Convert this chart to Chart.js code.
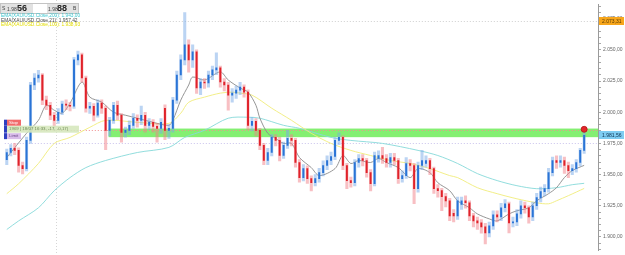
<!DOCTYPE html>
<html>
<head>
<meta charset="utf-8">
<script src="https://cdn.jsdelivr.net/npm/chart.js@4.4.1/dist/chart.umd.min.js"></script>
<style>
  html, body { margin: 0; padding: 0; background: #fff; }
  #wrap { width: 625px; height: 255px; }
</style>
</head>
<body>
<div id="wrap"><canvas id="xauChart" width="625" height="255"></canvas></div>
<script>
// XAU/USD candles
const opens = [
  1962.0,1967.7,1971.0,1969.4,1957.3,1954.8,1977.4,2021.8,2027.4,2029.8,
  2009.7,2005.6,1997.6,1993.5,2000.0,2006.5,2005.6,2004.8,2041.9,2046.0,
  2027.4,2003.2,2004.8,1997.6,2007.3,2003.2,1985.5,1993.5,2005.6,1997.6,
  1983.9,1985.5,1989.5,1995.2,1993.5,1997.6,1989.5,1991.9,1988.7,1987.1,
  2003.2,1985.5,1987.1,2009.7,2029.8,2041.9,2054.0,2041.9,2048.4,2019.4,
  2024.2,2023.4,2029.8,2033.9,2035.5,2024.2,2021.8,2013.7,2015.3,2017.7,
  2020.2,2016.1,1989.5,1992.7,1985.5,1973.4,1961.3,1967.7,1979.8,1977.4,
  1965.3,1973.4,1979.0,1977.4,1959.7,1947.6,1954.8,1946.8,1943.5,1946.8,
  1951.6,1957.3,1961.3,1964.5,1977.4,1979.8,1957.3,1945.2,1943.5,1959.7,
  1962.9,1961.3,1951.6,1942.7,1963.0,1965.3,1962.9,1959.7,1963.7,1961.3,
  1946.8,1949.2,1958.9,1957.3,1938.7,1957.3,1959.0,1961.3,1954.8,1938.7,
  1937.1,1932.3,1929.0,1919.0,1916.9,1926.0,1929.0,1927.4,1916.9,1912.9,
  1911.3,1908.1,1903.2,1908.9,1917.7,1916.1,1923.4,1926.6,1911.3,1912.1,
  1918.5,1925.0,1923.4,1916.1,1925.0,1931.5,1936.3,1938.7,1951.6,1961.3,
  1959.7,1961.3,1957.3,1953.2,1954.8,1959.7,1969.4
];
const highs = [
  1970.5,1974.0,1975.0,1971.5,1960.0,1980.0,2024.0,2031.0,2033.5,2031.0,
  2013.0,2008.0,2000.0,2003.0,2009.0,2010.0,2008.0,2044.0,2049.0,2047.5,
  2029.0,2008.0,2007.0,2010.0,2010.0,2005.0,1996.0,2008.0,2009.0,1999.0,
  1988.0,1993.0,1999.0,1998.0,2005.0,2000.0,1995.0,1994.0,1991.0,1995.0,
  2006.0,1990.0,2012.0,2033.0,2046.0,2079.8,2058.0,2054.0,2050.0,2027.0,
  2027.0,2033.0,2037.0,2047.6,2037.0,2027.0,2024.0,2019.0,2021.0,2024.0,
  2022.0,2018.0,1996.0,1995.0,1987.0,1975.0,1971.0,1982.0,1982.0,1980.0,
  1976.0,1985.5,1982.0,1979.0,1962.0,1958.0,1957.0,1949.0,1950.0,1955.0,
  1961.0,1965.0,1968.0,1980.0,1983.5,1981.0,1959.0,1948.0,1962.0,1966.0,
  1966.0,1963.0,1954.0,1968.0,1969.0,1971.8,1966.0,1967.0,1967.0,1963.0,
  1953.0,1963.7,1962.0,1959.0,1960.0,1969.4,1965.0,1963.0,1956.0,1942.0,
  1939.0,1935.0,1931.0,1922.0,1932.0,1932.0,1933.0,1929.0,1919.0,1916.0,
  1914.0,1911.0,1912.0,1921.0,1921.0,1927.0,1930.0,1928.0,1916.0,1922.0,
  1929.0,1928.0,1925.0,1928.0,1935.0,1940.0,1942.0,1955.0,1964.0,1965.0,
  1965.0,1964.0,1960.0,1958.0,1962.0,1971.0,1986.0
];
const lows = [
  1958.0,1965.0,1966.0,1952.0,1950.5,1953.0,1975.0,2018.0,2024.0,2006.0,
  2002.0,1994.0,1988.5,1991.0,1998.0,2002.0,2001.0,2003.0,2038.0,2024.0,
  2000.0,1999.0,1993.0,1996.0,1999.0,1970.0,1981.0,1991.0,1994.0,1976.0,
  1980.0,1982.0,1987.0,1988.0,1990.0,1984.0,1986.0,1984.0,1976.0,1983.0,
  1978.0,1979.0,1984.0,2007.0,2026.0,2038.0,2032.0,2036.0,2015.0,2014.0,
  2019.0,2020.0,2026.0,2030.0,2020.0,2017.0,2001.6,2008.0,2011.0,2014.0,
  2012.0,1986.0,1985.0,1981.0,1970.0,1958.0,1958.0,1965.0,1973.0,1961.0,
  1963.0,1971.0,1973.0,1956.0,1944.0,1945.0,1943.0,1937.0,1941.0,1944.0,
  1949.0,1954.0,1958.0,1962.0,1974.0,1954.0,1938.7,1940.0,1941.0,1956.0,
  1957.0,1948.0,1937.0,1941.0,1960.0,1959.0,1956.0,1956.0,1958.0,1943.0,
  1944.0,1947.0,1953.0,1926.6,1936.0,1954.0,1956.0,1950.0,1935.0,1932.0,
  1921.0,1924.0,1913.0,1912.0,1914.0,1922.0,1923.0,1913.0,1908.0,1906.0,
  1903.0,1894.4,1900.0,1906.0,1912.0,1913.0,1920.0,1903.2,1908.0,1909.0,
  1915.0,1919.0,1911.0,1913.0,1922.0,1928.0,1933.0,1936.0,1949.0,1955.0,
  1956.0,1951.0,1947.6,1950.0,1952.0,1957.0,1967.0
];
const closes = [
  1967.7,1971.0,1969.4,1957.3,1954.8,1977.4,2021.8,2027.4,2029.8,2009.7,
  2005.6,1997.6,1993.5,2000.0,2006.5,2005.6,2004.8,2041.9,2046.0,2027.4,
  2003.2,2004.8,1997.6,2007.3,2003.2,1985.5,1993.5,2005.6,1997.6,1983.9,
  1985.5,1989.5,1995.2,1993.5,1997.6,1989.5,1991.9,1988.7,1987.1,1991.9,
  1985.5,1987.1,2009.7,2029.8,2041.9,2054.0,2041.9,2048.4,2019.4,2024.2,
  2023.4,2029.8,2033.9,2035.5,2024.2,2021.8,2013.7,2015.3,2017.7,2020.2,
  2016.1,1989.5,1992.7,1985.5,1973.4,1961.3,1967.7,1979.8,1977.4,1965.3,
  1973.4,1979.0,1977.4,1959.7,1947.6,1954.8,1946.8,1943.5,1946.8,1951.6,
  1957.3,1961.3,1964.5,1977.4,1979.8,1957.3,1945.2,1943.5,1959.7,1962.9,
  1961.3,1951.6,1942.7,1965.3,1965.3,1962.9,1959.7,1963.7,1961.3,1946.8,
  1949.2,1958.9,1957.3,1938.7,1957.3,1961.3,1961.3,1954.8,1938.7,1937.1,
  1932.3,1929.0,1916.9,1916.9,1929.0,1929.0,1927.4,1916.9,1912.9,1911.3,
  1908.1,1903.2,1908.9,1917.7,1916.1,1923.4,1926.6,1911.3,1912.1,1918.5,
  1925.0,1923.4,1916.1,1925.0,1931.5,1936.3,1938.7,1951.6,1961.3,1959.7,
  1961.3,1957.3,1953.2,1954.8,1959.7,1969.4,1981.56
];

// moving averages, [candle index, value]
const ema21 = [
  [0,1963.7],[5,1983.1],[8,1993.5],[10,2005.6],[12,2001.6],[14,1999.2],[16,2007.3],
  [19,2024.2],[21,2012.1],[24,2008.1],[27,2000.0],[30,1997.6],[33,1995.2],[37,1991.9],
  [41,1989.5],[42,1993.5],[44,2009.7],[46,2021.8],[47,2028.2],[50,2025.8],[54,2032.3],
  [56,2025.8],[59,2019.4],[61,2016.1],[63,2005.6],[64,1995.2],[66,1983.1],[68,1979.0],
  [70,1975.0],[72,1975.0],[74,1963.7],[77,1955.6],[79,1949.2],[83,1954.8],[85,1965.3],
  [87,1958.9],[89,1961.3],[92,1959.7],[94,1962.9],[96,1959.7],[99,1955.6],[102,1947.6],
  [104,1954.8],[107,1951.6],[109,1943.5],[112,1937.1],[114,1929.0],[117,1923.4],
  [119,1918.5],[122,1914.5],[124,1912.9],[127,1918.5],[129,1921.0],[132,1923.4],
  [134,1929.0],[137,1934.7],[139,1939.5],[141,1947.6],[143,1953.2],[146,1957.4]
];
const ema100 = [
  [0,1934.7],[3,1942.7],[8,1958.9],[12,1975.0],[16,1979.8],[21,1987.9],[25,1993.5],
  [33,1991.9],[41,1991.1],[44,1999.2],[46,2008.0],[50,2012.1],[54,2015.3],[57,2016.1],
  [59,2015.3],[62,2013.7],[67,2003.2],[72,1993.5],[77,1983.1],[82,1975.0],[87,1969.4],
  [92,1965.3],[97,1961.3],[102,1958.9],[107,1954.8],[112,1949.2],[114,1947.6],
  [119,1939.5],[124,1934.7],[129,1930.6],[134,1927.4],[137,1926.6],[139,1929.0],
  [142,1933.1],[146,1938.9]
];
const ema200 = [
  [0,1906.0],[3,1912.9],[8,1923.4],[12,1937.1],[16,1947.6],[20,1955.6],[25,1961.3],
  [33,1967.7],[41,1971.8],[45,1979.8],[50,1985.5],[56,1995.2],[61,1996.0],[64,1995.2],
  [70,1989.5],[74,1987.1],[82,1979.8],[87,1977.4],[95,1975.0],[104,1969.4],[109,1965.3],
  [114,1958.9],[119,1950.8],[124,1945.2],[129,1941.1],[134,1938.7],[139,1939.5],
  [143,1941.9],[146,1943.0]
];

const emaLegend = [
  ['EMA(XAU/USD.Close,200): 1.943,00', '#3fc6cf'],
  ['EMA(XAU/USD.Close,21): 1.957,42', '#4a4a4a'],
  ['EMA(XAU/USD.Close,100): 1.938,93', '#e2dc00']
];
const sellQuote = ['1.98', '56'];
const buyQuote = ['1.98', '88'];

const zoneLow = 1980.0;
const zoneHigh = 1986.9;
const zoneFrom = 25.75;
const highLevel = 2073.31;
const lastPrice = 1981.56;
const stopLevel = 1986.0;
const limitLevel = 1975.2;
const alertIndex = 146;
const alertPrice = 1986.3;
const orderText = '1969 | 18/07 16:33, -17, -0,17)';
const separatorIndex = 12.5;

const yMin = 1889.4;
const yMax = 2086.1;
const slots = 150;

function fmt(v) {
  const parts = v.toFixed(2).split('.');
  return parts[0].replace(/\B(?=(\d{3})+(?!\d))/g, '.') + ',' + parts[1];
}

function sparse(points) {
  const out = new Array(closes.length).fill(null);
  points.forEach(p => { out[p[0]] = p[1]; });
  return out;
}

const labels = Array.from({ length: slots }, (_, i) => String(i));
const isUp = closes.map((c, i) => c >= opens[i]);

function dotted(ctx, x1, x2, y1, y2, color) {
  ctx.beginPath();
  ctx.strokeStyle = color;
  ctx.lineWidth = 1;
  ctx.setLineDash([1, 2]);
  ctx.moveTo(x1, y1);
  ctx.lineTo(x2, y2);
  ctx.stroke();
  ctx.setLineDash([]);
}

const overlay = {
  id: 'overlay',
  beforeDatasetsDraw(chart) {
    const { ctx, chartArea: a, scales: { x, y } } = chart;
    ctx.save();
    // green zone
    const zx = x.getPixelForValue(zoneFrom);
    const zt = y.getPixelForValue(zoneHigh);
    const zb = y.getPixelForValue(zoneLow);
    ctx.fillStyle = '#84ef72';
    ctx.fillRect(zx, zt, a.right - zx, zb - zt);

    const hy = Math.round(y.getPixelForValue(highLevel)) + 0.5;
    dotted(ctx, a.left, a.right, hy, hy, '#cfcfcf');
    const sy = Math.round(y.getPixelForValue(stopLevel)) + 0.5;
    dotted(ctx, a.left, a.right, sy, sy, '#f08f8f');
    const ly = Math.round(y.getPixelForValue(limitLevel)) + 0.5;
    dotted(ctx, a.left, a.right, ly, ly, '#c9c2ec');
    const vx = Math.round(x.getPixelForValue(separatorIndex)) + 0.5;
    dotted(ctx, vx, vx, 0, chart.height, '#d6d6d6');
    ctx.restore();
  },
  afterDraw(chart) {
    const { ctx, chartArea: a, scales: { y } } = chart;
    ctx.save();
    ctx.textBaseline = 'middle';

    // price boxes on the axis
    const boxes = [[highLevel, '#f7a61c', '#5a3a00'], [lastPrice, '#7fcdf2', '#0d3350']];
    boxes.forEach(b => {
      const py = Math.round(y.getPixelForValue(b[0]));
      ctx.fillStyle = b[1];
      ctx.fillRect(a.right + 1, py - 4, 25, 8);
      ctx.fillStyle = b[2];
      ctx.font = '5px "Liberation Sans"';
      ctx.textAlign = 'left';
      ctx.fillText(fmt(b[0]), a.right + 4, py + 0.5);
    });

    // quote header
    ctx.fillStyle = '#e2e2e2';
    ctx.fillRect(0, 3, 79, 11);
    ctx.strokeStyle = '#c4c4c4';
    ctx.lineWidth = 1;
    ctx.strokeRect(0.5, 3.5, 78, 10);
    ctx.fillStyle = '#ffffff';
    ctx.fillRect(33, 4, 14, 9);
    ctx.fillStyle = '#444';
    ctx.font = '5px "Liberation Sans"';
    ctx.fillText('S', 2, 9);
    ctx.fillText(sellQuote[0], 7, 10);
    ctx.fillText(buyQuote[0], 48, 10);
    ctx.fillText('B', 73, 9);
    ctx.fillStyle = '#222';
    ctx.font = 'bold 9px "Liberation Sans"';
    ctx.fillText(sellQuote[1], 17, 9);
    ctx.fillText(buyQuote[1], 57, 9);

    // EMA legend
    ctx.font = '4.8px "Liberation Sans"';
    emaLegend.forEach((l, i) => {
      ctx.fillStyle = l[1];
      ctx.fillText(l[0], 1, 15.5 + i * 4.8);
    });

    // order labels on the left
    const sy = y.getPixelForValue(stopLevel);
    const ly = y.getPixelForValue(limitLevel);
    ctx.fillStyle = 'rgba(214,232,190,0.9)';
    ctx.fillRect(7, sy - 4, 72, 7);
    ctx.fillStyle = '#6f8a55';
    ctx.font = '4.4px "Liberation Sans"';
    ctx.fillText(orderText, 9, sy - 0.5);
    ctx.fillStyle = '#f16a6a';
    ctx.fillRect(7, sy - 10, 14, 6);
    ctx.fillStyle = '#ffffff';
    ctx.fillText('Stop', 9, sy - 7);
    ctx.fillStyle = '#d9bdea';
    ctx.fillRect(7, ly - 10, 14, 6);
    ctx.fillStyle = '#6b4a8a';
    ctx.fillText('Limit', 9, ly - 7);
    ctx.fillStyle = '#2f3fc0';
    ctx.fillRect(4, sy - 10, 3, 6);
    ctx.fillRect(4, sy - 4, 3, 7);
    ctx.fillRect(4, ly - 10, 3, 6);
    ctx.restore();
  }
};

const ctx = document.getElementById('xauChart').getContext('2d');
new Chart(ctx, {
  type: 'bar',
  data: {
    labels: labels,
    datasets: [
      {
        type: 'line',
        label: 'alert',
        data: sparse([[alertIndex, alertPrice]]),
        showLine: false,
        pointRadius: 3,
        pointBackgroundColor: '#e3262b',
        pointBorderColor: '#b11414',
        pointBorderWidth: 0.8,
        order: 0
      },
      {
        label: 'body',
        data: opens.map((o, i) => [o, closes[i]]),
        backgroundColor: isUp.map(u => (u ? '#2a74d6' : '#e0222a')),
        barThickness: 1.3,
        minBarLength: 1,
        grouped: false,
        order: 1
      },
      {
        label: 'wick',
        data: lows.map((l, i) => [l, highs[i]]),
        backgroundColor: isUp.map(u => (u ? 'rgba(120,170,232,0.5)' : 'rgba(242,128,136,0.5)')),
        barThickness: 2.4,
        grouped: false,
        order: 2
      },
      {
        type: 'line',
        label: 'EMA 21',
        data: sparse(ema21),
        borderColor: '#8a8a8a',
        borderWidth: 0.9,
        pointRadius: 0,
        spanGaps: true,
        tension: 0.3,
        order: 3
      },
      {
        type: 'line',
        label: 'EMA 100',
        data: sparse(ema100),
        borderColor: '#f1ec7a',
        borderWidth: 0.9,
        pointRadius: 0,
        spanGaps: true,
        tension: 0.3,
        order: 4
      },
      {
        type: 'line',
        label: 'EMA 200',
        data: sparse(ema200),
        borderColor: '#86d9d9',
        borderWidth: 0.9,
        pointRadius: 0,
        spanGaps: true,
        tension: 0.3,
        order: 5
      }
    ]
  },
  options: {
    responsive: false,
    animation: false,
    devicePixelRatio: 1,
    layout: { padding: 0 },
    plugins: {
      legend: { display: false },
      tooltip: { enabled: false }
    },
    scales: {
      x: {
        display: false,
        offset: true
      },
      y: {
        position: 'right',
        min: yMin,
        max: yMax,
        afterFit: (s) => { s.width = 27; },
        grid: { drawOnChartArea: false, tickLength: 3, color: '#a8a8a8' },
        border: { display: true, color: '#9a9a9a' },
        ticks: {
          stepSize: 5,
          autoSkip: false,
          includeBounds: false,
          padding: 2,
          color: '#666',
          font: { family: 'Liberation Sans', size: 5, lineHeight: 1 },
          callback: (v) => (Math.abs(v / 25 - Math.round(v / 25)) < 1e-6 ? fmt(v) : '')
        }
      }
    }
  },
  plugins: [overlay]
});
</script>
</body>
</html>
